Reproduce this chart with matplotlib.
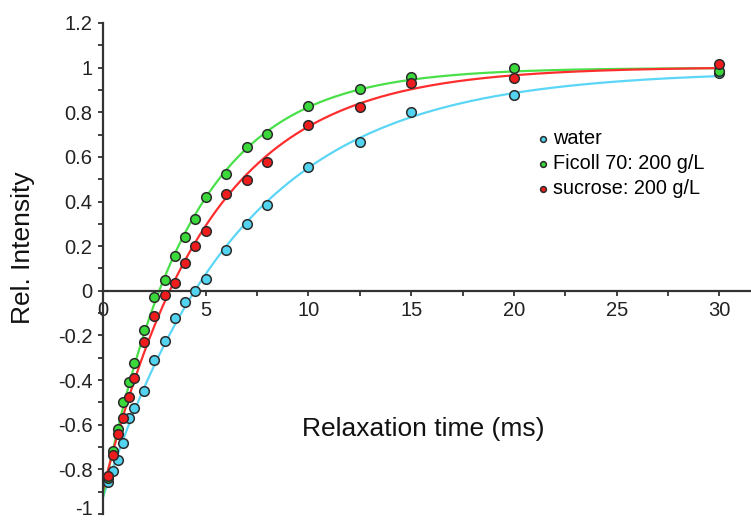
import numpy as np
import matplotlib
matplotlib.use("Agg")
import matplotlib.pyplot as plt
from matplotlib.ticker import MultipleLocator, FixedLocator

plt.rcParams['font.family'] = ['Liberation Sans', 'DejaVu Sans']

# relaxation delays (ms)
t_water = [0.25, 0.5, 0.75, 1.0, 1.25, 1.5, 2.0, 2.5, 3.0, 3.5, 4.0, 4.5, 5.0,
           6.0, 7.0, 8.0, 10.0, 12.5, 15.0, 20.0, 30.0]
t_ficoll = [0.25, 0.5, 0.75, 1.0, 1.25, 1.5, 2.0, 2.5, 3.0, 3.5, 4.0, 4.5, 5.0,
            6.0, 7.0, 8.0, 10.0, 12.5, 15.0, 20.0, 30.0]
t_sucrose = [0.25, 0.5, 0.75, 1.0, 1.25, 1.5, 2.0, 2.5, 3.0, 3.5, 4.0, 4.5, 5.0,
             6.0, 7.0, 8.0, 10.0, 12.5, 15.0, 20.0, 30.0]

# relative intensities
y_water = [-0.855, -0.807, -0.758, -0.68, -0.571, -0.526, -0.447, -0.312, -0.224,
           -0.122, -0.048, -0.003, 0.052, 0.184, 0.30, 0.383, 0.554, 0.666,
           0.80, 0.876, 0.975]
y_ficoll = [-0.84, -0.717, -0.62, -0.50, -0.41, -0.324, -0.175, -0.026, 0.049,
            0.158, 0.239, 0.324, 0.42, 0.525, 0.646, 0.703, 0.828, 0.905,
            0.957, 0.997, 0.985]
y_sucrose = [-0.83, -0.735, -0.643, -0.568, -0.477, -0.389, -0.23, -0.112, -0.018,
             0.034, 0.124, 0.199, 0.266, 0.434, 0.498, 0.575, 0.743, 0.823,
             0.93, 0.955, 1.017]

labels = ['water', 'Ficoll 70: 200 g/L', 'sucrose: 200 g/L']
face_colors = ['#52d3ef', '#3ad83a', '#ee1c1c']
line_colors = ['#5cd6f6', '#49e049', '#ff2e2e']


def fit_recovery(t, y):
    """y = C - A*exp(-t/T1), linear least squares over a grid of T1."""
    t = np.asarray(t)
    y = np.asarray(y)
    best = None
    for T1 in np.linspace(1.0, 15.0, 2801):
        M = np.column_stack([np.ones_like(t), -np.exp(-t / T1)])
        coef, _, _, _ = np.linalg.lstsq(M, y, rcond=None)
        err = np.sum((M @ coef - y) ** 2)
        if best is None or err < best[0]:
            best = (err, coef[0], coef[1], T1)
    return best[1:]


def ylabel_fmt(v, pos):
    if abs(v + 1) < 1e-9:
        return ''  # drawn separately below, nudged up off the edge
    return f'{v:g}' if abs(v) > 1e-9 else '0'


fig = plt.figure(figsize=(7.51, 5.21), dpi=100)
ax = fig.add_axes([0.137, 0.0134, 0.862, 0.9425])

tt = np.linspace(0, 30, 400)
series = [(t_water, y_water), (t_ficoll, y_ficoll), (t_sucrose, y_sucrose)]
for (t, y), lc in zip(series, line_colors):
    C, A, T1 = fit_recovery(t, y)
    ax.plot(tt, C - A * np.exp(-tt / T1), color=lc, lw=1.6, zorder=2)

for (t, y), lab, fc in zip(series, labels, face_colors):
    ax.scatter(t, y, s=48, color=fc, edgecolors='#2b2b2b', linewidths=1.1,
               zorder=3, label=lab)

ax.set_xlim(0, 31.5)
ax.set_ylim(-1, 1.2)

ax.spines['top'].set_visible(False)
ax.spines['right'].set_visible(False)
ax.spines['left'].set_position(('data', 0))
ax.spines['bottom'].set_position(('data', 0))
for s in ('left', 'bottom'):
    ax.spines[s].set_linewidth(1.6)
    ax.spines[s].set_color('#333333')

ax.xaxis.set_major_locator(FixedLocator([0, 5, 10, 15, 20, 25, 30]))
ax.xaxis.set_minor_locator(MultipleLocator(2.5))
ax.yaxis.set_major_locator(MultipleLocator(0.2))
ax.yaxis.set_minor_locator(MultipleLocator(0.1))
ax.yaxis.set_major_formatter(plt.FuncFormatter(ylabel_fmt))

ax.tick_params(axis='both', which='both', direction='out', length=3.5, width=1.3,
               color='#333333', labelsize=14.5, labelcolor='#222222')
ax.tick_params(axis='x', which='major', pad=4)
ax.tick_params(axis='y', which='major', pad=4)

ax.annotate('-1', xy=(0, -1), xytext=(-7.5, 3.5), textcoords='offset points',
            ha='right', va='center', fontsize=14.5, color='#222222',
            annotation_clip=False)

leg = ax.legend(loc='upper left', bbox_to_anchor=(0.652, 0.80), frameon=False,
                fontsize=14.3, handletextpad=0.0, labelspacing=0.3,
                markerscale=0.6, borderaxespad=0, handlelength=1.0)

fig.text(0.031, 0.525, 'Rel. Intensity', rotation=90, fontsize=19,
         ha='center', va='center', color='#111111')
fig.text(0.563, 0.177, 'Relaxation time (ms)', fontsize=19,
         ha='center', va='center', color='#111111')

fig.savefig('out.png', dpi=100)
